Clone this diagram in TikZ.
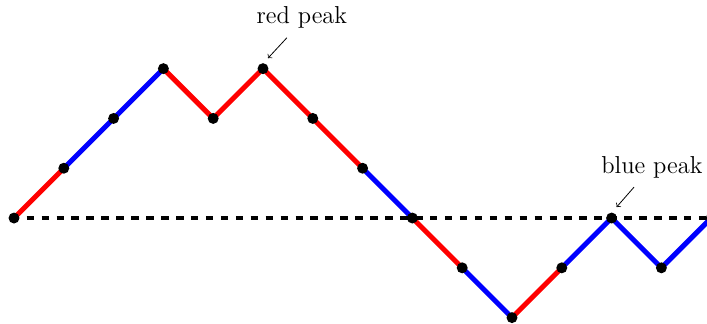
\documentclass[tikz,border=0pt]{standalone}
\usetikzlibrary{backgrounds}
\definecolor{pathred}{RGB}{255,0,0}
\definecolor{pathblue}{RGB}{0,0,255}
\tikzset{
  dot/.style={circle,fill=black,inner sep=0pt,minimum size=0.22cm},
  rseg/.style={pathred,line width=0.1cm},
  bseg/.style={pathblue,line width=0.1cm},
  axisline/.style={black,line width=0.08cm,dash pattern=on 0.15cm off 0.15cm,dash phase=0.046cm},
  peaklabel/.style={font=\fontsize{14}{17}\selectfont,inner sep=0pt},
  pointer/.style={->,line width=0.45pt}
}
\begin{document}
\begin{tikzpicture}
\useasboundingbox (-0.281,-2.108) rectangle (13.916,4.378);
\foreach \i/\y in {0/0,1/1,2/2,3/3,4/2,5/3,6/2,7/1,8/0,9/-1,10/-2,11/-1,12/0,13/-1,14/0}
  \node[dot] (p\i) at (\i,\y) {};
\begin{scope}[on background layer]
  \draw[rseg] (p0.center) -- (p1.center);
  \draw[bseg] (p1.center) -- (p2.center) -- (p3.center);
  \draw[rseg] (p3.center) -- (p4.center) -- (p5.center) -- (p6.center) -- (p7.center);
  \draw[bseg] (p7.center) -- (p8.center);
  \draw[rseg] (p8.center) -- (p9.center);
  \draw[bseg] (p9.center) -- (p10.center);
  \draw[rseg] (p10.center) -- (p11.center);
  \draw[bseg] (p11.center) -- (p12.center) -- (p13.center) -- (p14.center);
  \coordinate (axend) at (15,0);
  \draw[axisline] (p0.center) -- (axend);
\end{scope}
\node[peaklabel] (rl) at (5.78,4.02) {red peak};
\node[peaklabel] (bl) at (12.81,1.01) {blue peak};
\coordinate (ra) at (5.48,3.62);
\coordinate (rb) at (5.1,3.21);
\coordinate (ba) at (12.45,0.62);
\coordinate (bb) at (12.1,0.22);
\draw[pointer] (ra) -- (rb);
\draw[pointer] (ba) -- (bb);
\end{tikzpicture}
\end{document}
